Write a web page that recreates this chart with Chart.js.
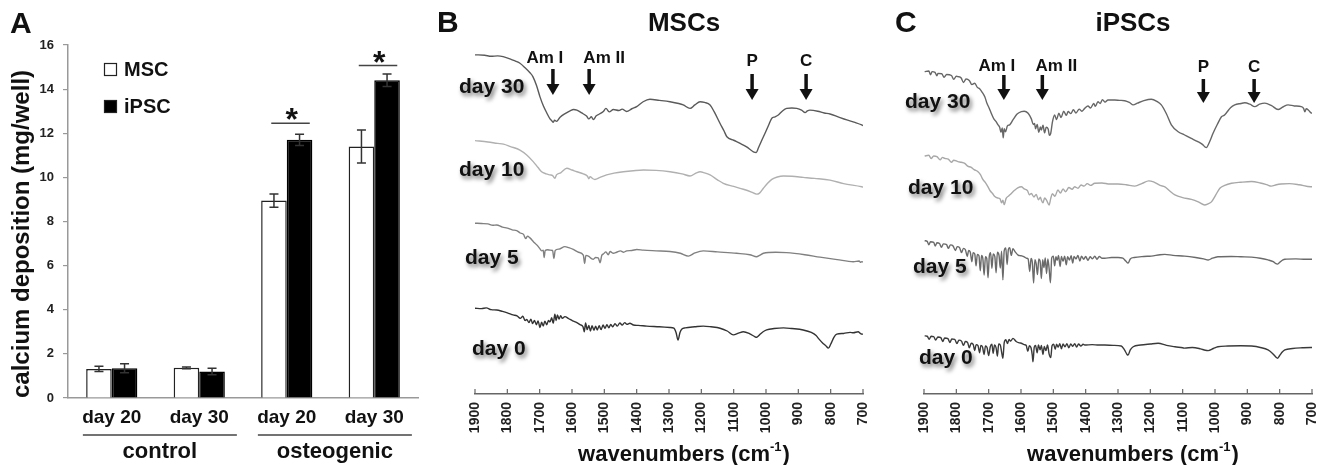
<!DOCTYPE html>
<html>
<head>
<meta charset="utf-8">
<script src="https://cdn.jsdelivr.net/npm/chart.js@4.4.1/dist/chart.umd.min.js"></script>
<style>
    html, body { margin: 0; padding: 0; background: #fff; }
    #wrap { position: relative; width: 1323px; height: 465px; overflow: hidden; }
    canvas { position: absolute; top: 0; }
</style>
</head>
<body>
<div id="wrap">
    <canvas id="barChart" width="430" height="465" style="left:0px"></canvas>
    <canvas id="mscChart" width="450" height="465" style="left:430px"></canvas>
    <canvas id="ipscChart" width="443" height="465" style="left:880px"></canvas>
</div>
<script>
// ---- panel A: calcium deposition ----
const days = ['day 20', 'day 30', 'day 20', 'day 30'];
const groups = ['control', 'osteogenic'];
const groupOf = [0, 0, 1, 1];
const mscMean = [1.32, 1.37, 8.95, 11.4];
const mscErr = [0.12, 0.04, 0.3, 0.75];
const ipscMean = [1.35, 1.2, 11.7, 14.4];
const ipscErr = [0.2, 0.15, 0.25, 0.28];
const sigIndex = [2, 3];
const sigLevel = [12.45, 15.07];

// ---- panels B, C: FTIR spectra, [wavenumber, transmittance a.u.] ----
const wnTicks = [1900, 1800, 1700, 1600, 1500, 1400, 1300, 1200, 1100, 1000, 900, 800, 700];
const peakNames = ['Am I', 'Am II', 'P', 'C'];
const peakWnMsc = [1659, 1547, 1043, 876];
const peakWnIpsc = [1653, 1534, 1036, 879];

const mscDay30 = [[1900,96.9],[1870,96.8],[1850,96.5],[1830,96.6],[1813,96.4],[1790,95.7],[1775,95.1],[1761,94.5],[1745,93.2],[1730,91.8],[1721,90.7],[1710,88.2],[1699,84.9],[1688,82.2],[1678,80.3],[1668,78.6],[1662,78.0],[1658,77.6],[1654,78.2],[1648,77.9],[1637,79.1],[1620,80.2],[1606,80.9],[1595,81.3],[1585,81.1],[1570,80.3],[1555,79.4],[1548,78.6],[1540,79.2],[1534,78.4],[1525,79.5],[1515,80.0],[1503,80.7],[1495,81.6],[1485,80.6],[1472,81.3],[1455,81.0],[1445,81.4],[1431,80.7],[1415,81.5],[1400,82.1],[1380,83.5],[1359,84.2],[1330,83.9],[1297,83.5],[1270,83.0],[1256,82.6],[1235,81.6],[1220,82.6],[1204,83.5],[1190,83.3],[1173,82.6],[1160,80.6],[1142,77.3],[1130,75.2],[1121,73.5],[1100,72.5],[1080,71.6],[1060,70.6],[1039,69.2],[1030,69.0],[1024,70.2],[1013,72.5],[1003,74.5],[992,76.8],[982,78.8],[972,79.2],[962,79.7],[950,80.8],[936,81.6],[920,81.7],[905,81.6],[890,81.1],[879,80.4],[872,80.9],[864,81.1],[840,80.8],[820,80.3],[802,80.0],[775,79.1],[750,78.3],[725,77.6],[704,76.9],[700,76.7]];
const mscDay10 = [[1900,72.4],[1860,72.0],[1830,71.6],[1812,71.4],[1790,70.7],[1761,69.7],[1740,68.3],[1720,66.4],[1705,64.7],[1694,63.5],[1680,62.9],[1668,62.6],[1660,62.4],[1653,61.6],[1648,62.6],[1635,63.2],[1616,64.5],[1600,64.0],[1585,63.5],[1565,62.9],[1552,62.2],[1548,61.5],[1544,62.1],[1537,61.6],[1529,61.3],[1515,61.8],[1493,62.6],[1470,63.1],[1441,63.5],[1410,63.8],[1379,64.0],[1340,63.9],[1297,63.5],[1260,62.9],[1235,62.3],[1215,63.2],[1204,63.5],[1190,63.2],[1173,62.6],[1150,61.2],[1132,60.2],[1100,59.3],[1070,58.5],[1045,57.7],[1029,57.1],[1020,57.4],[1008,58.8],[995,60.2],[982,61.3],[965,62.0],[946,62.3],[920,62.2],[885,61.9],[850,61.6],[802,61.1],[760,60.1],[704,59.2],[700,59.1]];
const mscDay5 = [[1900,48.8],[1880,48.7],[1860,48.6],[1845,48.2],[1833,48.3],[1815,47.7],[1800,47.4],[1785,46.9],[1771,46.7],[1760,46.0],[1750,45.6],[1743,44.4],[1738,45.1],[1730,44.6],[1720,43.6],[1709,42.6],[1700,41.6],[1694,40.9],[1689,41.1],[1686,39.0],[1683,41.0],[1675,41.2],[1668,41.1],[1660,41.0],[1656,38.7],[1652,41.0],[1640,41.4],[1622,42.1],[1610,41.8],[1596,41.3],[1580,40.5],[1565,39.7],[1561,37.3],[1557,39.6],[1548,39.3],[1540,38.7],[1534,38.5],[1527,39.0],[1519,38.9],[1513,37.5],[1508,39.6],[1503,40.0],[1495,40.6],[1488,39.8],[1482,40.7],[1472,40.2],[1462,40.5],[1450,40.9],[1440,40.5],[1431,40.9],[1415,41.0],[1400,41.3],[1379,41.1],[1340,40.9],[1297,40.7],[1265,40.2],[1240,39.4],[1220,40.3],[1194,40.9],[1150,40.6],[1091,40.2],[1050,39.8],[1029,39.2],[1020,39.6],[1008,40.2],[970,40.5],[936,40.4],[880,39.8],[833,39.1],[780,38.4],[730,37.8],[712,38.0],[708,37.6],[704,37.8],[700,37.7]];
const mscDay0 = [[1900,24.5],[1880,24.4],[1865,24.6],[1850,24.1],[1833,24.0],[1815,23.6],[1800,23.2],[1782,22.6],[1770,22.3],[1760,21.6],[1752,22.2],[1745,21.0],[1740,21.3],[1733,20.4],[1727,21.4],[1722,20.1],[1716,21.0],[1710,19.8],[1705,20.9],[1699,19.0],[1694,20.5],[1689,19.4],[1684,20.8],[1678,19.8],[1673,21.0],[1668,20.6],[1663,21.8],[1658,20.2],[1653,22.8],[1649,21.0],[1645,22.6],[1640,21.4],[1635,22.4],[1630,21.6],[1622,22.1],[1610,21.5],[1598,20.9],[1585,20.4],[1575,19.8],[1566,19.2],[1562,17.8],[1558,20.3],[1553,18.4],[1548,19.6],[1543,18.0],[1538,19.5],[1532,18.2],[1527,19.4],[1522,18.3],[1516,19.5],[1510,18.4],[1504,19.7],[1498,18.8],[1492,19.8],[1486,18.9],[1480,19.9],[1474,19.2],[1467,20.1],[1460,19.4],[1452,20.3],[1445,19.7],[1437,20.4],[1430,19.9],[1421,20.2],[1410,19.7],[1395,19.6],[1369,19.4],[1330,19.2],[1297,19.0],[1285,18.8],[1278,17.5],[1272,15.4],[1266,17.6],[1260,18.6],[1250,18.9],[1220,19.2],[1194,19.4],[1170,19.2],[1142,18.8],[1120,18.0],[1101,16.9],[1085,17.4],[1070,17.8],[1050,17.2],[1035,16.4],[1029,16.2],[1020,16.9],[1010,17.7],[998,18.3],[975,18.7],[946,18.9],[920,18.7],[885,18.3],[860,17.6],[845,16.7],[838,15.9],[825,14.6],[815,13.8],[807,13.1],[800,14.2],[790,16.2],[781,17.1],[760,17.3],[740,17.6],[730,17.5],[715,17.8],[708,17.3],[704,17.1],[700,17.1]];

const ipscDay30 = [[1898,92.1],[1885,92.3],[1880,91.2],[1875,92.1],[1866,91.9],[1860,90.9],[1857,91.6],[1845,91.5],[1838,90.5],[1830,91.3],[1815,91.0],[1808,89.9],[1800,90.8],[1795,90.7],[1785,90.3],[1778,89.0],[1770,90.0],[1760,89.6],[1752,88.4],[1743,88.8],[1735,87.6],[1728,87.2],[1720,86.2],[1712,84.9],[1705,83.0],[1698,81.6],[1692,80.2],[1684,78.6],[1677,77.8],[1671,76.9],[1666,76.2],[1662,74.8],[1658,76.0],[1655,73.2],[1652,75.8],[1648,74.9],[1642,76.6],[1635,76.9],[1625,78.3],[1612,80.0],[1599,80.7],[1590,80.8],[1578,80.2],[1568,78.6],[1562,77.0],[1558,77.3],[1555,75.8],[1550,77.0],[1545,74.8],[1540,76.3],[1537,75.4],[1532,76.8],[1527,74.6],[1522,76.2],[1516,75.7],[1512,73.9],[1508,74.5],[1503,77.6],[1496,79.7],[1490,78.4],[1483,80.2],[1476,79.0],[1468,80.8],[1460,79.6],[1454,80.7],[1446,80.1],[1438,81.2],[1430,80.3],[1420,81.4],[1412,80.8],[1403,81.6],[1393,82.3],[1385,81.7],[1375,83.0],[1370,82.2],[1362,83.5],[1355,83.0],[1348,84.1],[1340,83.4],[1331,84.0],[1310,84.0],[1295,83.9],[1279,83.8],[1265,83.3],[1253,82.6],[1240,83.1],[1220,83.8],[1197,84.2],[1180,83.6],[1166,82.6],[1150,80.0],[1135,76.9],[1115,75.0],[1094,74.0],[1075,73.1],[1053,72.1],[1040,71.4],[1027,70.4],[1017,72.0],[1006,74.5],[993,77.0],[980,79.2],[972,79.6],[965,80.3],[952,81.8],[939,82.6],[920,83.0],[908,83.2],[892,82.8],[877,82.1],[862,82.8],[846,83.1],[825,82.4],[805,81.3],[790,82.0],[774,82.6],[755,82.3],[733,82.1],[726,81.6],[722,80.6],[718,81.5],[710,81.0],[704,80.4],[700,80.2]];
const ipscDay10 = [[1898,68.0],[1885,68.2],[1878,67.3],[1870,68.0],[1860,67.8],[1850,66.9],[1843,67.6],[1836,67.3],[1825,67.1],[1815,66.2],[1808,66.8],[1795,66.4],[1785,66.2],[1774,65.9],[1765,65.1],[1755,64.8],[1745,64.1],[1733,63.5],[1725,62.6],[1718,61.3],[1710,60.4],[1702,59.2],[1695,58.0],[1688,57.3],[1681,56.4],[1672,56.0],[1665,55.8],[1660,54.6],[1656,55.4],[1652,54.1],[1646,55.9],[1638,56.6],[1630,57.3],[1620,58.2],[1610,58.9],[1599,59.2],[1590,58.6],[1580,58.1],[1574,56.9],[1568,57.3],[1560,56.3],[1553,57.0],[1546,55.5],[1540,56.2],[1537,55.4],[1532,54.6],[1527,56.0],[1520,55.2],[1513,54.0],[1508,55.9],[1503,57.2],[1495,56.5],[1486,58.3],[1478,57.4],[1470,58.6],[1462,57.8],[1452,59.0],[1442,58.5],[1434,59.2],[1424,58.8],[1414,59.7],[1405,59.4],[1395,60.1],[1385,59.6],[1372,60.2],[1350,60.3],[1325,60.0],[1300,60.0],[1275,59.8],[1248,59.4],[1225,60.2],[1205,60.9],[1190,60.6],[1170,59.6],[1155,59.2],[1140,58.0],[1124,56.9],[1100,56.1],[1073,55.6],[1050,54.8],[1032,54.0],[1022,54.3],[1011,54.9],[998,56.8],[985,58.8],[970,59.6],[949,60.2],[920,60.5],[887,60.7],[860,60.3],[840,59.8],[826,59.4],[810,59.8],[796,60.0],[770,60.1],[740,59.8],[704,59.2],[700,59.2]];
const ipscDay5 = [[1898,43.8],[1890,43.6],[1885,42.6],[1880,43.5],[1870,43.3],[1865,42.3],[1860,43.2],[1852,43.0],[1846,41.9],[1840,42.9],[1830,42.7],[1825,41.6],[1818,42.6],[1810,42.3],[1803,41.0],[1797,42.1],[1790,41.8],[1784,40.4],[1778,41.6],[1772,41.2],[1766,39.3],[1762,41.0],[1757,40.6],[1752,37.8],[1748,40.4],[1743,40.0],[1739,36.6],[1735,39.9],[1730,39.5],[1726,35.2],[1722,39.6],[1718,38.7],[1714,34.0],[1710,39.2],[1706,38.8],[1702,33.2],[1698,39.4],[1694,40.4],[1690,35.9],[1686,40.0],[1681,39.3],[1677,34.6],[1673,40.5],[1668,39.6],[1664,36.0],[1660,40.8],[1656,32.6],[1652,40.9],[1647,41.7],[1643,37.0],[1639,41.3],[1635,41.8],[1630,39.6],[1625,41.5],[1618,40.6],[1609,39.7],[1600,39.5],[1590,39.2],[1583,38.8],[1578,38.6],[1573,35.0],[1569,38.7],[1565,37.6],[1561,31.7],[1557,38.4],[1553,37.2],[1549,34.1],[1545,38.6],[1541,38.0],[1537,33.0],[1533,38.4],[1529,36.1],[1525,38.9],[1521,34.4],[1517,38.6],[1513,35.8],[1509,31.8],[1505,38.9],[1500,39.4],[1496,36.6],[1492,39.2],[1488,38.2],[1484,39.6],[1479,36.4],[1475,39.3],[1470,37.9],[1465,39.4],[1460,36.9],[1456,39.2],[1450,38.3],[1445,39.5],[1440,37.4],[1436,39.3],[1430,38.6],[1424,39.6],[1418,38.0],[1413,39.4],[1406,38.5],[1400,39.3],[1393,38.2],[1386,39.2],[1379,38.6],[1372,39.4],[1365,38.5],[1358,39.3],[1350,38.8],[1341,38.8],[1320,39.0],[1300,39.0],[1285,38.8],[1276,38.0],[1269,37.4],[1262,38.6],[1250,39.0],[1220,39.3],[1197,39.4],[1170,39.8],[1155,39.9],[1130,39.6],[1094,39.4],[1060,39.0],[1035,38.6],[1021,38.3],[1008,38.8],[991,39.2],[950,39.3],[920,39.2],[887,39.1],[860,38.8],[836,38.3],[820,37.8],[813,37.3],[807,37.1],[800,37.6],[790,38.3],[784,38.5],[750,38.6],[720,38.5],[704,38.5],[700,38.5]];
const ipscDay0 = [[1898,16.6],[1890,16.5],[1884,15.6],[1878,16.5],[1870,16.4],[1864,15.4],[1857,16.3],[1848,16.1],[1842,15.0],[1836,16.0],[1826,15.8],[1820,14.7],[1814,15.7],[1805,15.6],[1798,14.4],[1792,15.4],[1784,15.1],[1778,13.9],[1772,15.0],[1765,14.7],[1760,13.2],[1754,14.5],[1748,14.2],[1743,12.4],[1739,14.1],[1733,13.8],[1728,11.8],[1724,13.9],[1719,13.4],[1714,11.3],[1710,13.7],[1705,13.3],[1700,11.0],[1695,13.5],[1690,14.2],[1686,11.6],[1682,14.0],[1677,13.2],[1673,10.8],[1669,14.3],[1664,14.0],[1660,12.0],[1656,10.2],[1652,14.6],[1647,15.5],[1642,14.4],[1637,15.6],[1632,15.1],[1625,15.9],[1615,15.0],[1605,14.6],[1599,14.5],[1590,14.1],[1584,13.9],[1579,12.2],[1574,13.8],[1569,13.2],[1565,11.0],[1563,9.2],[1559,13.4],[1555,13.9],[1550,11.8],[1546,14.0],[1541,12.6],[1537,13.9],[1532,11.3],[1528,13.6],[1523,12.4],[1518,14.0],[1513,11.4],[1508,10.4],[1504,13.8],[1499,14.2],[1494,12.8],[1490,14.2],[1485,13.4],[1480,14.4],[1475,12.9],[1470,14.3],[1464,13.5],[1458,14.4],[1452,13.2],[1446,14.3],[1440,13.6],[1434,14.4],[1428,13.4],[1422,14.3],[1415,13.7],[1408,14.2],[1403,14.0],[1380,14.1],[1360,14.0],[1341,14.0],[1315,13.9],[1290,13.7],[1280,12.6],[1272,11.3],[1269,11.1],[1262,12.6],[1253,13.5],[1230,14.0],[1200,14.3],[1176,14.5],[1150,13.9],[1124,13.5],[1100,13.2],[1094,13.1],[1070,13.3],[1045,12.9],[1030,12.5],[1021,12.4],[1005,13.0],[991,13.5],[960,13.7],[920,13.8],[887,13.7],[860,13.3],[836,12.6],[822,11.6],[812,10.6],[807,10.2],[800,11.0],[792,12.0],[784,12.6],[760,13.0],[730,13.2],[704,13.3],[700,13.3]];

const FONT = '"Liberation Sans", Arial, Helvetica, sans-serif';
Chart.defaults.font.family = FONT;
Chart.defaults.font.weight = 'bold';
Chart.defaults.color = '#111';

function bold(size) {
    return `bold ${size}px ${FONT}`;
}

// error bars, significance marks, legend, group labels
const barDecor = {
    id: 'barDecor',
    afterDatasetsDraw(chart) {
        const ctx = chart.ctx;
        const xs = chart.scales.x;
        const ys = chart.scales.y;
        const area = chart.chartArea;
        const catW = xs.width / days.length;
        ctx.save();

        [mscErr, ipscErr].forEach((errs, d) => {
            const means = chart.data.datasets[d].data;
            chart.getDatasetMeta(d).data.forEach((bar, i) => {
                const top = ys.getPixelForValue(means[i] + errs[i]);
                const bot = ys.getPixelForValue(means[i] - errs[i]);
                ctx.strokeStyle = '#333';
                ctx.lineWidth = 1.5;
                ctx.beginPath();
                ctx.moveTo(bar.x, top); ctx.lineTo(bar.x, bot);
                ctx.moveTo(bar.x - 4.5, top); ctx.lineTo(bar.x + 4.5, top);
                ctx.moveTo(bar.x - 4.5, bot); ctx.lineTo(bar.x + 4.5, bot);
                ctx.stroke();
            });
        });

        sigIndex.forEach((ci, k) => {
            const cx = xs.getPixelForValue(ci);
            const ly = ys.getPixelForValue(sigLevel[k]);
            ctx.strokeStyle = '#444';
            ctx.lineWidth = 1.5;
            ctx.beginPath();
            ctx.moveTo(cx - 0.177 * catW, ly);
            ctx.lineTo(cx + 0.263 * catW, ly);
            ctx.stroke();
            ctx.fillStyle = '#111';
            ctx.font = bold(32);
            ctx.textAlign = 'center';
            ctx.textBaseline = 'alphabetic';
            ctx.fillText('*', cx + 5, ly + 7);
        });

        chart.data.datasets.forEach((ds, d) => {
            const bx = area.left + 36;
            const by = area.top + 18 + d * 37;
            ctx.fillStyle = ds.backgroundColor;
            ctx.fillRect(bx, by, 13, 13);
            ctx.strokeStyle = '#222';
            ctx.lineWidth = 1.2;
            ctx.strokeRect(bx + 0.5, by + 0.5, 12, 12);
            ctx.fillStyle = '#111';
            ctx.font = bold(20);
            ctx.textAlign = 'left';
            ctx.textBaseline = 'middle';
            ctx.fillText(ds.label, bx + 20, by + 7);
        });

        groups.forEach((g, k) => {
            const idx = groupOf.map((gi, i) => (gi === k ? i : -1)).filter(i => i >= 0);
            const x0 = xs.getPixelForValue(idx[0]) - 0.33 * catW;
            const x1 = xs.getPixelForValue(idx[idx.length - 1]) + 0.43 * catW;
            ctx.strokeStyle = '#444';
            ctx.lineWidth = 1.5;
            ctx.beginPath();
            ctx.moveTo(x0, 435); ctx.lineTo(x1, 435);
            ctx.stroke();
            ctx.fillStyle = '#111';
            ctx.font = bold(22);
            ctx.textAlign = 'center';
            ctx.textBaseline = 'middle';
            ctx.fillText(g, (x0 + x1) / 2, 452);
        });

        ctx.font = bold(30);
        ctx.textAlign = 'left';
        ctx.textBaseline = 'middle';
        ctx.fillText('A', 10, 25);
        ctx.restore();
    }
};

// inward ticks, day labels, peak arrows, titles
const spectraDecor = {
    id: 'spectraDecor',
    afterDraw(chart, args, opts) {
        const ctx = chart.ctx;
        const xs = chart.scales.x;
        const area = chart.chartArea;
        const midX = (area.left + area.right) / 2 + 15;
        ctx.save();

        ctx.strokeStyle = '#666';
        ctx.lineWidth = 1.2;
        ctx.beginPath();
        xs.ticks.forEach(t => {
            const px = xs.getPixelForValue(t.value);
            ctx.moveTo(px, area.bottom);
            ctx.lineTo(px, area.bottom - 5);
        });
        ctx.stroke();

        chart.data.datasets.forEach((ds, i) => {
            const [lx, ly] = opts.dayPos[i];
            ctx.save();
            ctx.shadowColor = 'rgba(0,0,0,0.55)';
            ctx.shadowBlur = 4;
            ctx.shadowOffsetX = 2;
            ctx.shadowOffsetY = 3;
            ctx.fillStyle = '#111';
            ctx.font = bold(21);
            ctx.textAlign = 'left';
            ctx.textBaseline = 'middle';
            ctx.fillText(ds.label, lx, ly);
            ctx.restore();
        });

        opts.peaks.forEach((wn, i) => {
            const ax = xs.getPixelForValue(wn);
            const lay = opts.peakLayout[i];
            ctx.fillStyle = '#111';
            ctx.font = bold(17);
            ctx.textAlign = 'center';
            ctx.textBaseline = 'middle';
            ctx.fillText(peakNames[i], ax + lay.dx, lay.ty);
            ctx.strokeStyle = '#111';
            ctx.lineWidth = 3.5;
            ctx.beginPath();
            ctx.moveTo(ax, lay.top);
            ctx.lineTo(ax, lay.bottom - 8);
            ctx.stroke();
            ctx.beginPath();
            ctx.moveTo(ax - 6.5, lay.bottom - 11);
            ctx.lineTo(ax + 6.5, lay.bottom - 11);
            ctx.lineTo(ax, lay.bottom);
            ctx.closePath();
            ctx.fill();
        });

        ctx.fillStyle = '#111';
        ctx.textBaseline = 'middle';
        ctx.font = bold(30);
        ctx.textAlign = 'left';
        ctx.fillText(opts.letter, opts.letterX, 24);
        ctx.font = bold(26);
        ctx.textAlign = 'center';
        ctx.fillText(opts.title, midX, 24);

        // axis title with superscript
        const main = 'wavenumbers (cm';
        const sup = '-1';
        ctx.font = bold(22);
        const wMain = ctx.measureText(main).width;
        const wClose = ctx.measureText(')').width;
        ctx.font = bold(13);
        const wSup = ctx.measureText(sup).width;
        let tx = midX - (wMain + wSup + wClose + 1) / 2;
        ctx.textAlign = 'left';
        ctx.textBaseline = 'alphabetic';
        ctx.font = bold(22);
        ctx.fillText(main, tx, 461);
        tx += wMain;
        ctx.font = bold(13);
        ctx.fillText(sup, tx, 451);
        tx += wSup + 1;
        ctx.font = bold(22);
        ctx.fillText(')', tx, 461);
        ctx.restore();
    }
};

new Chart(document.getElementById('barChart'), {
    type: 'bar',
    data: {
        labels: days,
        datasets: [
            { label: 'MSC', data: mscMean, backgroundColor: '#ffffff', borderColor: '#222', borderWidth: 1.5 },
            { label: 'iPSC', data: ipscMean, backgroundColor: '#000000', borderColor: '#000', borderWidth: 1.5 }
        ]
    },
    options: {
        responsive: false,
        animation: false,
        categoryPercentage: 0.585,
        barPercentage: 1,
        layout: { padding: { left: 0, right: 12, top: 45, bottom: 0 } },
        plugins: { legend: { display: false }, tooltip: { enabled: false } },
        scales: {
            x: {
                grid: { display: false, drawTicks: false },
                border: { display: true, color: '#999', width: 1.5 },
                ticks: { font: { size: 19, weight: 'bold' }, color: '#111', padding: 8 },
                afterFit: (scale) => { scale.height = 67; }
            },
            y: {
                min: 0,
                max: 16,
                ticks: { stepSize: 2, font: { size: 13, weight: 'bold' }, color: '#222', padding: 9 },
                grid: { drawOnChartArea: false, tickLength: 5, color: '#999', lineWidth: 1.2 },
                border: { display: true, color: '#999', width: 1.5 },
                title: {
                    display: true,
                    text: 'calcium deposition (mg/well)',
                    align: 'start',
                    font: { size: 24, weight: 'bold' },
                    color: '#111',
                    padding: { top: 8, bottom: 0 }
                },
                afterFit: (scale) => { scale.width = 68; }
            }
        }
    },
    plugins: [barDecor]
});

function spectraChart(id, series, colors, padLeft, padRight, decor) {
    return new Chart(document.getElementById(id), {
        type: 'line',
        data: {
            datasets: series.map((s, i) => ({
                label: ['day 30', 'day 10', 'day 5', 'day 0'][i],
                data: s.map(p => ({ x: p[0], y: p[1] })),
                borderColor: colors[i],
                borderWidth: 1.4,
                pointRadius: 0,
                cubicInterpolationMode: 'monotone',
                fill: false
            }))
        },
        options: {
            responsive: false,
            animation: false,
            layout: { padding: { left: padLeft, right: padRight, top: 44, bottom: 0 } },
            plugins: { legend: { display: false }, tooltip: { enabled: false }, spectraDecor: decor },
            scales: {
                x: {
                    type: 'linear',
                    reverse: true,
                    min: 700,
                    max: 1900,
                    afterBuildTicks: (scale) => { scale.ticks = wnTicks.map(v => ({ value: v })); },
                    grid: { display: false, drawTicks: false },
                    border: { display: true, color: '#666', width: 1.5 },
                    ticks: {
                        autoSkip: false,
                        minRotation: 90,
                        maxRotation: 90,
                        padding: 8,
                        font: { size: 14, weight: 'bold' },
                        color: '#222',
                        callback: (v) => String(v)
                    },
                    afterFit: (scale) => {
                        scale.height = 71;
                        scale.paddingLeft = 0;
                        scale.paddingRight = 0;
                    }
                },
                y: { display: false, min: 0, max: 100 }
            }
        },
        plugins: [spectraDecor]
    });
}

spectraChart('mscChart', [mscDay30, mscDay10, mscDay5, mscDay0],
    ['#5a5a5a', '#b0b0b0', '#808080', '#333333'], 45, 17, {
        letter: 'B', letterX: 7, title: 'MSCs',
        peaks: peakWnMsc,
        dayPos: [[29, 87], [29, 170], [35, 258], [42, 349]],
        peakLayout: [
            { dx: -8, ty: 58, top: 69, bottom: 95 },
            { dx: 15, ty: 58, top: 69, bottom: 95 },
            { dx: 0, ty: 61, top: 74, bottom: 100 },
            { dx: 0, ty: 61, top: 74, bottom: 100 }
        ]
    });

spectraChart('ipscChart', [ipscDay30, ipscDay10, ipscDay5, ipscDay0],
    ['#666666', '#a8a8a8', '#6a6a6a', '#3a3a3a'], 44, 11, {
        letter: 'C', letterX: 15, title: 'iPSCs',
        peaks: peakWnIpsc,
        dayPos: [[25, 102], [28, 188], [33, 267], [39, 358]],
        peakLayout: [
            { dx: -7, ty: 66, top: 75, bottom: 100 },
            { dx: 14, ty: 66, top: 75, bottom: 100 },
            { dx: 0, ty: 67, top: 79, bottom: 103 },
            { dx: 0, ty: 67, top: 79, bottom: 103 }
        ]
    });
</script>
</body>
</html>
